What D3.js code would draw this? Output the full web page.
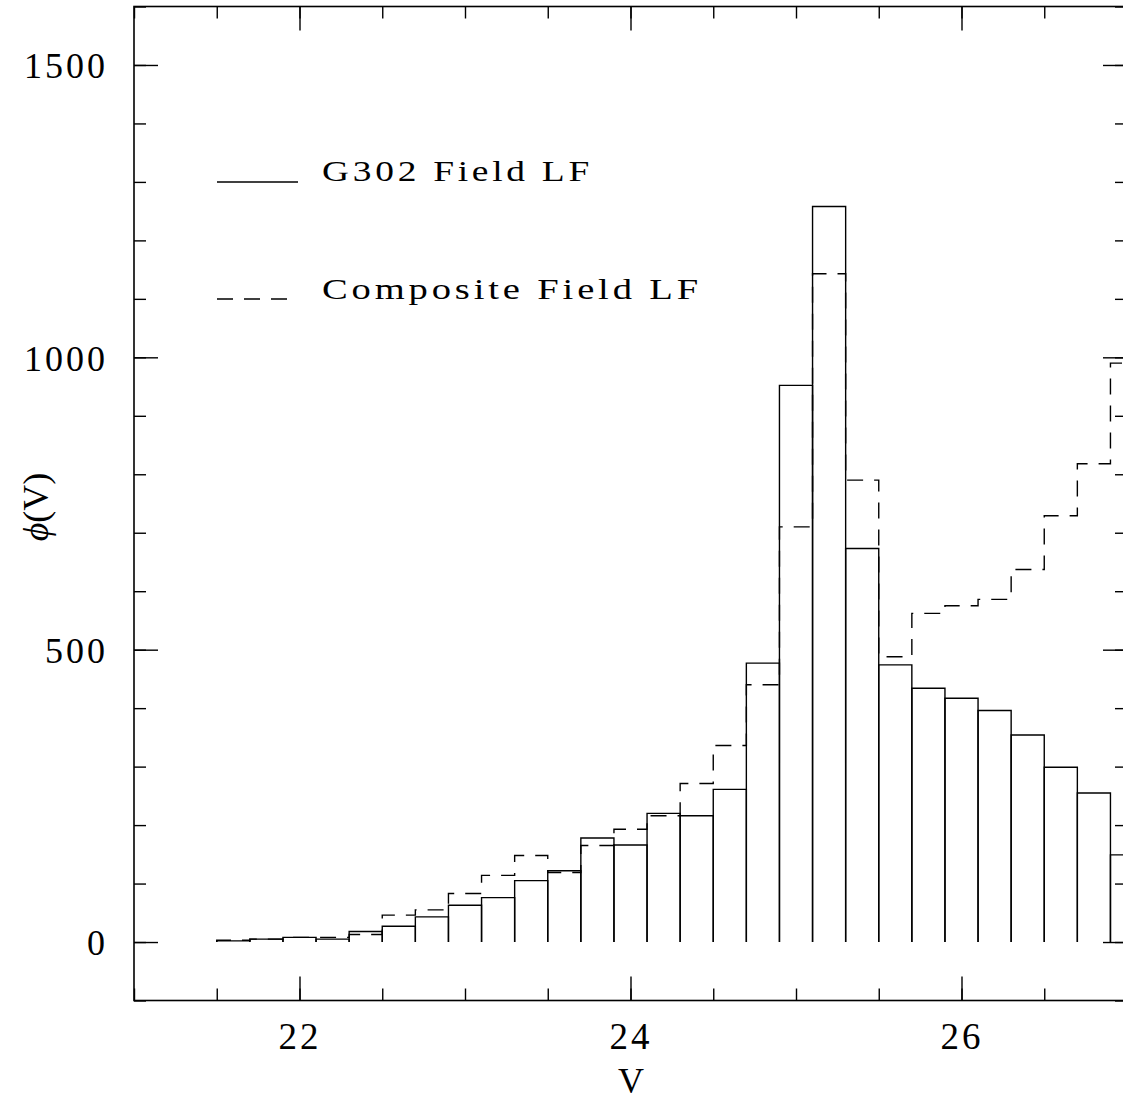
<!DOCTYPE html>
<html>
<head>
<meta charset="utf-8">
<script src="https://cdn.jsdelivr.net/npm/d3@7"></script>
<style>
  body { margin: 0; background: #fff; }
  text { font-family: "Liberation Serif", "DejaVu Serif", serif; fill: #000; }
</style>
</head>
<body>
<svg width="1123" height="1102"></svg>
<script>
// bin lower edges (V mag), bin width 0.2
var binStart = [21.5, 21.7, 21.9, 22.1, 22.3, 22.5, 22.7, 22.9, 23.1, 23.3, 23.5, 23.7, 23.9, 24.1,
                24.3, 24.5, 24.7, 24.9, 25.1, 25.3, 25.5, 25.7, 25.9, 26.1, 26.3, 26.5, 26.7, 26.9];
var binWidth = 0.2;

// G302 field LF (solid)
var g302 = [2, 5, 8, 5, 18, 27, 43, 63, 76, 105, 122, 178, 166, 220,
            216, 261, 477, 952, 1258, 673, 474, 434, 417, 396, 354, 299, 255, 149];
// composite field LF (dashed)
var composite = [3, 5, 8, 8, 13, 46, 55, 83, 114, 148, 119, 165, 193, 216,
                 271, 336, 440, 710, 1143, 790, 488, 562, 575, 586, 637, 729, 818, 990];

var xLabels = [22, 24, 26];
var yLabels = [0, 500, 1000, 1500];

var svg = d3.select("svg");

var pL = 134, pR = 1127, pT = 6.5, pB = 1000.5;

var x = d3.scaleLinear().domain([21, 27]).range([pL, pR]);
var y = d3.scaleLinear().domain([-100, 1600]).range([pB, pT]);

svg.append("clipPath").attr("id", "plot")
    .append("rect").attr("x", pL).attr("y", pT)
    .attr("width", pR - pL).attr("height", pB - pT);

// frame
svg.append("rect")
    .attr("x", pL).attr("y", pT)
    .attr("width", pR - pL).attr("height", pB - pT)
    .attr("fill", "none").attr("stroke", "#000").attr("stroke-width", 1.6);

function ticks(g) {
    g.select(".domain").remove();
    g.selectAll(".tick line").attr("stroke", "#000").attr("stroke-width", 1.4);
}

// minor ticks
svg.append("g").attr("transform", "translate(" + pL + ",0)")
    .call(d3.axisLeft(y).tickValues(d3.range(-100, 1601, 100)).tickSizeInner(-12).tickFormat(""))
    .call(ticks);
svg.append("g").attr("transform", "translate(" + pR + ",0)")
    .call(d3.axisRight(y).tickValues(d3.range(-100, 1601, 100)).tickSizeInner(-12).tickFormat(""))
    .call(ticks);
svg.append("g").attr("transform", "translate(0," + pB + ")")
    .call(d3.axisBottom(x).tickValues(d3.range(21, 27.01, 0.5)).tickSizeInner(-12).tickFormat(""))
    .call(ticks);
svg.append("g").attr("transform", "translate(0," + pT + ")")
    .call(d3.axisTop(x).tickValues(d3.range(21, 27.01, 0.5)).tickSizeInner(-12).tickFormat(""))
    .call(ticks);

// major ticks
var yl = svg.append("g").attr("transform", "translate(" + pL + ",0)")
    .call(d3.axisLeft(y).tickValues(yLabels).tickSizeInner(-24).tickPadding(26).tickFormat(d3.format("d")))
    .call(ticks);
yl.selectAll(".tick text")
    .attr("font-size", 36).attr("letter-spacing", 3)
    .attr("dy", "0.36em").attr("font-family", null);
svg.append("g").attr("transform", "translate(" + pR + ",0)")
    .call(d3.axisRight(y).tickValues(yLabels).tickSizeInner(-24).tickFormat(""))
    .call(ticks);
var xl = svg.append("g").attr("transform", "translate(0," + pB + ")")
    .call(d3.axisBottom(x).tickValues(xLabels).tickSizeInner(-24).tickPadding(0).tickFormat(d3.format("d")))
    .call(ticks);
xl.selectAll(".tick text")
    .attr("font-size", 37).attr("letter-spacing", 3)
    .attr("y", 48.5).attr("dy", 0).attr("font-family", null);
svg.append("g").attr("transform", "translate(0," + pT + ")")
    .call(d3.axisTop(x).tickValues(xLabels).tickSizeInner(-24).tickFormat(""))
    .call(ticks);

var plot = svg.append("g").attr("clip-path", "url(#plot)");

// composite: stepped outline, dashed
var step = "M" + x(binStart[0]) + "," + y(0);
composite.forEach(function (v, i) {
    step += "V" + y(v) + "H" + x(binStart[i] + binWidth);
});
plot.append("path")
    .attr("d", step)
    .attr("fill", "none").attr("stroke", "#000").attr("stroke-width", 1.4)
    .attr("stroke-dasharray", "16,11");

// G302: open bars from zero
plot.selectAll(".bar")
    .data(g302)
    .enter().append("path")
    .attr("class", "bar")
    .attr("d", function (v, i) {
        var x0 = x(binStart[i]), x1 = x(binStart[i] + binWidth);
        return "M" + x0 + "," + y(0) + "V" + y(v) + "H" + x1 + "V" + y(0);
    })
    .attr("fill", "none").attr("stroke", "#000").attr("stroke-width", 1.4);

// legend
svg.append("line").attr("x1", 217).attr("x2", 298).attr("y1", 182).attr("y2", 182)
    .attr("stroke", "#000").attr("stroke-width", 1.4);
svg.append("line").attr("x1", 217).attr("x2", 298).attr("y1", 299).attr("y2", 299)
    .attr("stroke", "#000").attr("stroke-width", 1.4).attr("stroke-dasharray", "16,11");
svg.append("text").attr("x", 322).attr("y", 181).attr("font-size", 30).attr("letter-spacing", 3)
    .attr("textLength", 271).attr("lengthAdjust", "spacingAndGlyphs").text("G302 Field LF");
svg.append("text").attr("x", 322).attr("y", 299).attr("font-size", 30).attr("letter-spacing", 3)
    .attr("textLength", 380).attr("lengthAdjust", "spacingAndGlyphs").text("Composite Field LF");

// axis titles
svg.append("text").attr("x", 631).attr("y", 1093).attr("font-size", 36)
    .attr("text-anchor", "middle").text("V");
svg.append("text")
    .attr("transform", "translate(48,507) rotate(-90)")
    .attr("font-size", 36).attr("text-anchor", "middle")
    .html('<tspan font-style="italic">ϕ</tspan>(V)');
</script>
</body>
</html>
